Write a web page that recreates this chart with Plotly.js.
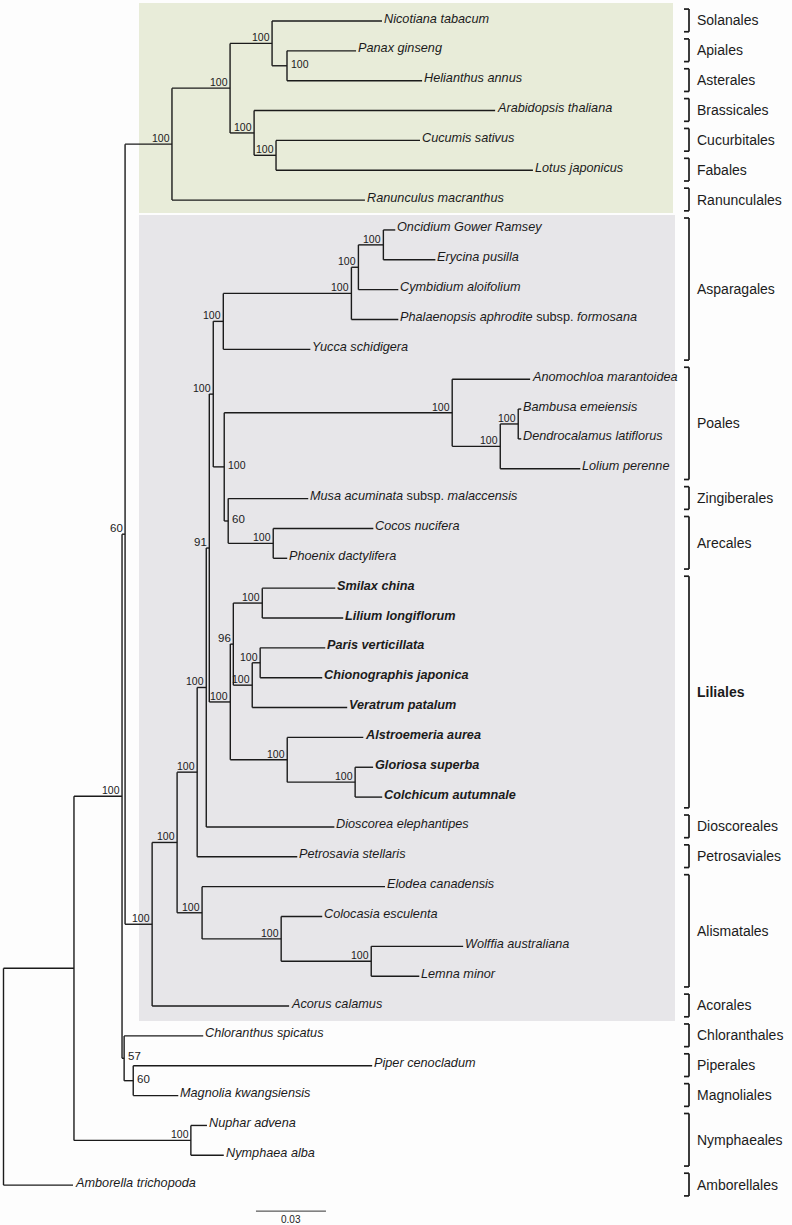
<!DOCTYPE html>
<html><head><meta charset="utf-8">
<script src="https://cdn.plot.ly/plotly-3.0.1.min.js"></script>
<style>html,body{margin:0;padding:0;background:#fdfdfd}</style>
</head><body><div id="chart" style="width:792px;height:1225px"></div>
<script>
// ---- Tree data (branch lengths in substitutions/site) ----
const cladeIds     = ['root','A','C','D','F','G','H','J','I','K','E','AA','Z','Y','W','P','O','N','M','L','Q','S','T','U','R','V','X','BA','BB','BC','BD','BE','BF','AB','AC','AD','N57','BG','BH'];
const cladeParents = [null,'root','A','C','D','F','G','H','G','I','D','E','AA','Z','Y','W','P','O','N','M','P','Q','S','T','Q','R','W','X','BA','BA','BC','X','BE','AA','AB','AC','C','N57','A'];
const cladeLengths = [0,0.0302,0.0206,0.0013,0.0201,0.0249,0.0180,0.0064,0.0103,0.0094,0.0116,0.0107,0.0086,0.0039,0.0013,0.0017,0.0043,0.0549,0.0030,0.0107,0.0047,0.0977,0.0206,0.0077,0.0017,0.0193,0.0090,0.0013,0.0124,0.0081,0.0034,0.0244,0.0291,0.0107,0.0339,0.0386,0.0009,0.0039,0.0501];
const cladeSupport = [null,null,100,60,100,100,100,100,100,100,100,100,100,100,91,100,100,100,100,100,100,100,100,100,60,100,100,96,100,100,100,100,100,100,100,100,57,60,100];

const tipNames = ['Nicotiana tabacum','Panax ginseng','Helianthus annus','Arabidopsis thaliana','Cucumis sativus','Lotus japonicus','Ranunculus macranthus',
  'Oncidium Gower Ramsey','Erycina pusilla','Cymbidium aloifolium','Phalaenopsis aphrodite subsp. formosana','Yucca schidigera',
  'Anomochloa marantoidea','Bambusa emeiensis','Dendrocalamus latiflorus','Lolium perenne','Musa acuminata subsp. malaccensis',
  'Cocos nucifera','Phoenix dactylifera','Smilax china','Lilium longiflorum','Paris verticillata','Chionographis japonica',
  'Veratrum patalum','Alstroemeria aurea','Gloriosa superba','Colchicum autumnale','Dioscorea elephantipes','Petrosavia stellaris',
  'Elodea canadensis','Colocasia esculenta','Wolffia australiana','Lemna minor','Acorus calamus','Chloranthus spicatus',
  'Piper cenocladum','Magnolia kwangsiensis','Nuphar advena','Nymphaea alba','Amborella trichopoda'];
const tipParents = ['H','J','J','I','K','K','F','L','L','M','N','O','S','U','U','T','R','V','V','BB','BB','BD','BD','BC','BE','BF','BF','Y','Z','AB','AC','AD','AD','E','N57','BG','BG','BH','BH','root'];
const tipLengths = [0.0471,0.0296,0.0579,0.1033,0.0617,0.1101,0.0827,0.0051,0.0223,0.0171,0.0201,0.0373,0.0334,0.0013,0.0013,0.0343,0.0343,0.0429,0.0060,0.0313,0.0347,0.0279,0.0266,0.0407,0.0326,0.0077,0.0116,0.0549,0.0429,0.0784,0.0176,0.0394,0.0206,0.0587,0.0339,0.1024,0.0193,0.0069,0.0141,0.0298];

const orderNames = ['Solanales','Apiales','Asterales','Brassicales','Cucurbitales','Fabales','Ranunculales','Asparagales','Poales','Zingiberales','Arecales','Liliales','Dioscoreales','Petrosaviales','Alismatales','Acorales','Chloranthales','Piperales','Magnoliales','Nymphaeales','Amborellales'];
const orderFirstTip = ['Nicotiana tabacum','Panax ginseng','Helianthus annus','Arabidopsis thaliana','Cucumis sativus','Lotus japonicus','Ranunculus macranthus','Oncidium Gower Ramsey','Anomochloa marantoidea','Musa acuminata subsp. malaccensis','Cocos nucifera','Smilax china','Dioscorea elephantipes','Petrosavia stellaris','Elodea canadensis','Acorus calamus','Chloranthus spicatus','Piper cenocladum','Magnolia kwangsiensis','Nuphar advena','Amborella trichopoda'];
const orderLastTip  = ['Nicotiana tabacum','Panax ginseng','Helianthus annus','Arabidopsis thaliana','Cucumis sativus','Lotus japonicus','Ranunculus macranthus','Yucca schidigera','Lolium perenne','Musa acuminata subsp. malaccensis','Phoenix dactylifera','Colchicum autumnale','Dioscorea elephantipes','Petrosavia stellaris','Lemna minor','Acorus calamus','Chloranthus spicatus','Piper cenocladum','Magnolia kwangsiensis','Nymphaea alba','Amborella trichopoda'];
const highlightOrder = 'Liliales';
const scaleBarLength = 0.03;

// ---- build tree geometry ----
const parentOf = {}, blOf = {}, children = {};
cladeIds.forEach((id,i)=>{parentOf[id]=cladeParents[i]; blOf[id]=cladeLengths[i];});
tipNames.forEach((id,i)=>{parentOf[id]=tipParents[i]; blOf[id]=tipLengths[i];});
Object.keys(parentOf).forEach(id=>{const p=parentOf[id]; if(p!=null){(children[p]=children[p]||[]).push(id);} });
const depth = {};
function getDepth(id){ if(depth[id]!==undefined) return depth[id]; const p=parentOf[id]; depth[id]=(p==null)?0:getDepth(p)+blOf[id]; return depth[id]; }
const yOf = {}; tipNames.forEach((n,i)=>yOf[n]=i);
function getY(id){ if(yOf[id]!==undefined) return yOf[id]; const ys=children[id].map(getY); yOf[id]=(Math.min(...ys)+Math.max(...ys))/2; return yOf[id]; }
Object.keys(parentOf).forEach(id=>{getDepth(id); getY(id);});

const lx=[], ly=[];
Object.keys(parentOf).forEach(id=>{
  const p=parentOf[id];
  if(p!=null){ lx.push(getDepth(p), getDepth(id), null); ly.push(getY(id), getY(id), null); }
});
cladeIds.forEach(id=>{
  const ys=children[id].map(getY);
  lx.push(getDepth(id), getDepth(id), null); ly.push(Math.min(...ys), Math.max(...ys), null);
});

const INK='#1b1b1b';
const SANS='Liberation Sans, Arial, sans-serif';

const hiIdx = orderNames.indexOf(highlightOrder);
const hiFrom = yOf[orderFirstTip[hiIdx]], hiTo = yOf[orderLastTip[hiIdx]];

function fmtTip(name, bold){
  const parts = name.split(' subsp. ');
  let s = '<i>'+parts[0]+'</i>' + (parts.length>1 ? ' subsp. <i>'+parts[1]+'</i>' : '');
  return bold ? '<b>'+s+'</b>' : s;
}

const annotations=[];
tipNames.forEach((n,i)=>{
  const bold = i>=hiFrom && i<=hiTo;
  annotations.push({x:getDepth(n), y:i, xref:'x', yref:'y', text:fmtTip(n,bold), showarrow:false,
    xanchor:'left', yanchor:'middle', xshift:0, yshift:2.5,
    font:{family:SANS, size:12.7, color:INK}});
});
const rightLabels = ['J','Q','R','N57','BG'];
cladeIds.forEach((id,i)=>{
  const s=cladeSupport[i]; if(s==null) return;
  const isR = rightLabels.includes(id);
  const f = (s===100) ? {family:SANS, size:10.5, color:INK} : {family:SANS, size:11.5, color:INK};
  if(isR){
    annotations.push({x:getDepth(id), y:getY(id), xref:'x', yref:'y', text:String(s), showarrow:false,
      xanchor:'left', yanchor:'middle', xshift:2, yshift:2, font:f});
  } else {
    annotations.push({x:getDepth(id), y:getY(id), xref:'x', yref:'y', text:String(s), showarrow:false,
      xanchor:'right', yanchor:'bottom', xshift:0, yshift:-2, font:f});
  }
});

const W=792;
const shapes=[];
const eudFirst=yOf['Nicotiana tabacum'], eudLast=yOf['Ranunculus macranthus'];
const monFirst=yOf['Oncidium Gower Ramsey'], monLast=yOf['Acorus calamus'];
shapes.push({type:'rect', layer:'below', xref:'paper', yref:'y', x0:139/W, x1:673/W, y0:eudFirst-0.6, y1:eudLast+0.43, fillcolor:'#e8ecd9', line:{width:0}});
shapes.push({type:'rect', layer:'below', xref:'paper', yref:'y', x0:139/W, x1:675/W, y0:monFirst-0.5, y1:monLast+0.5, fillcolor:'#e7e6e9', line:{width:0}});

const bx=689/W, bt=684/W;
orderNames.forEach((o,i)=>{
  const a=yOf[orderFirstTip[i]]-0.4, b=yOf[orderLastTip[i]]+0.36;
  const ln={color:INK, width:1.7};
  shapes.push({type:'line', xref:'paper', yref:'y', x0:bx, x1:bx, y0:a, y1:b, line:ln});
  shapes.push({type:'line', xref:'paper', yref:'y', x0:bt, x1:bx, y0:a, y1:a, line:ln});
  shapes.push({type:'line', xref:'paper', yref:'y', x0:bt, x1:bx, y0:b, y1:b, line:ln});
  annotations.push({xref:'paper', yref:'y', x:695/W, y:(a+b)/2, text:(o===highlightOrder?'<b>'+o+'</b>':o),
    showarrow:false, xanchor:'left', yanchor:'middle', font:{family:SANS, size:14, color:INK}});
});

const sbX0 = 0.1082, sbY = 39.87;
const traces=[
  {type:'scatter', mode:'lines', x:lx, y:ly, line:{color:INK, width:1.4}, hoverinfo:'skip', showlegend:false},
  {type:'scatter', mode:'lines', x:[sbX0, sbX0+scaleBarLength], y:[sbY,sbY], line:{color:'#333', width:1}, hoverinfo:'skip', showlegend:false}
];
annotations.push({x:sbX0+scaleBarLength/2, y:sbY, xref:'x', yref:'y', text:String(scaleBarLength), showarrow:false,
  xanchor:'center', yanchor:'top', yshift:-1, font:{family:SANS, size:10, color:INK}});

const layout={
  width:792, height:1225, margin:{l:0,r:0,t:0,b:0},
  paper_bgcolor:'#fdfdfd', plot_bgcolor:'rgba(0,0,0,0)',
  xaxis:{range:[-0.0015, 0.33793], visible:false, fixedrange:true},
  yaxis:{range:[40.335, -0.7035], visible:false, fixedrange:true},
  shapes:shapes, annotations:annotations, showlegend:false
};
Plotly.newPlot('chart', traces, layout, {displayModeBar:false, staticPlot:true});
</script></body></html>
